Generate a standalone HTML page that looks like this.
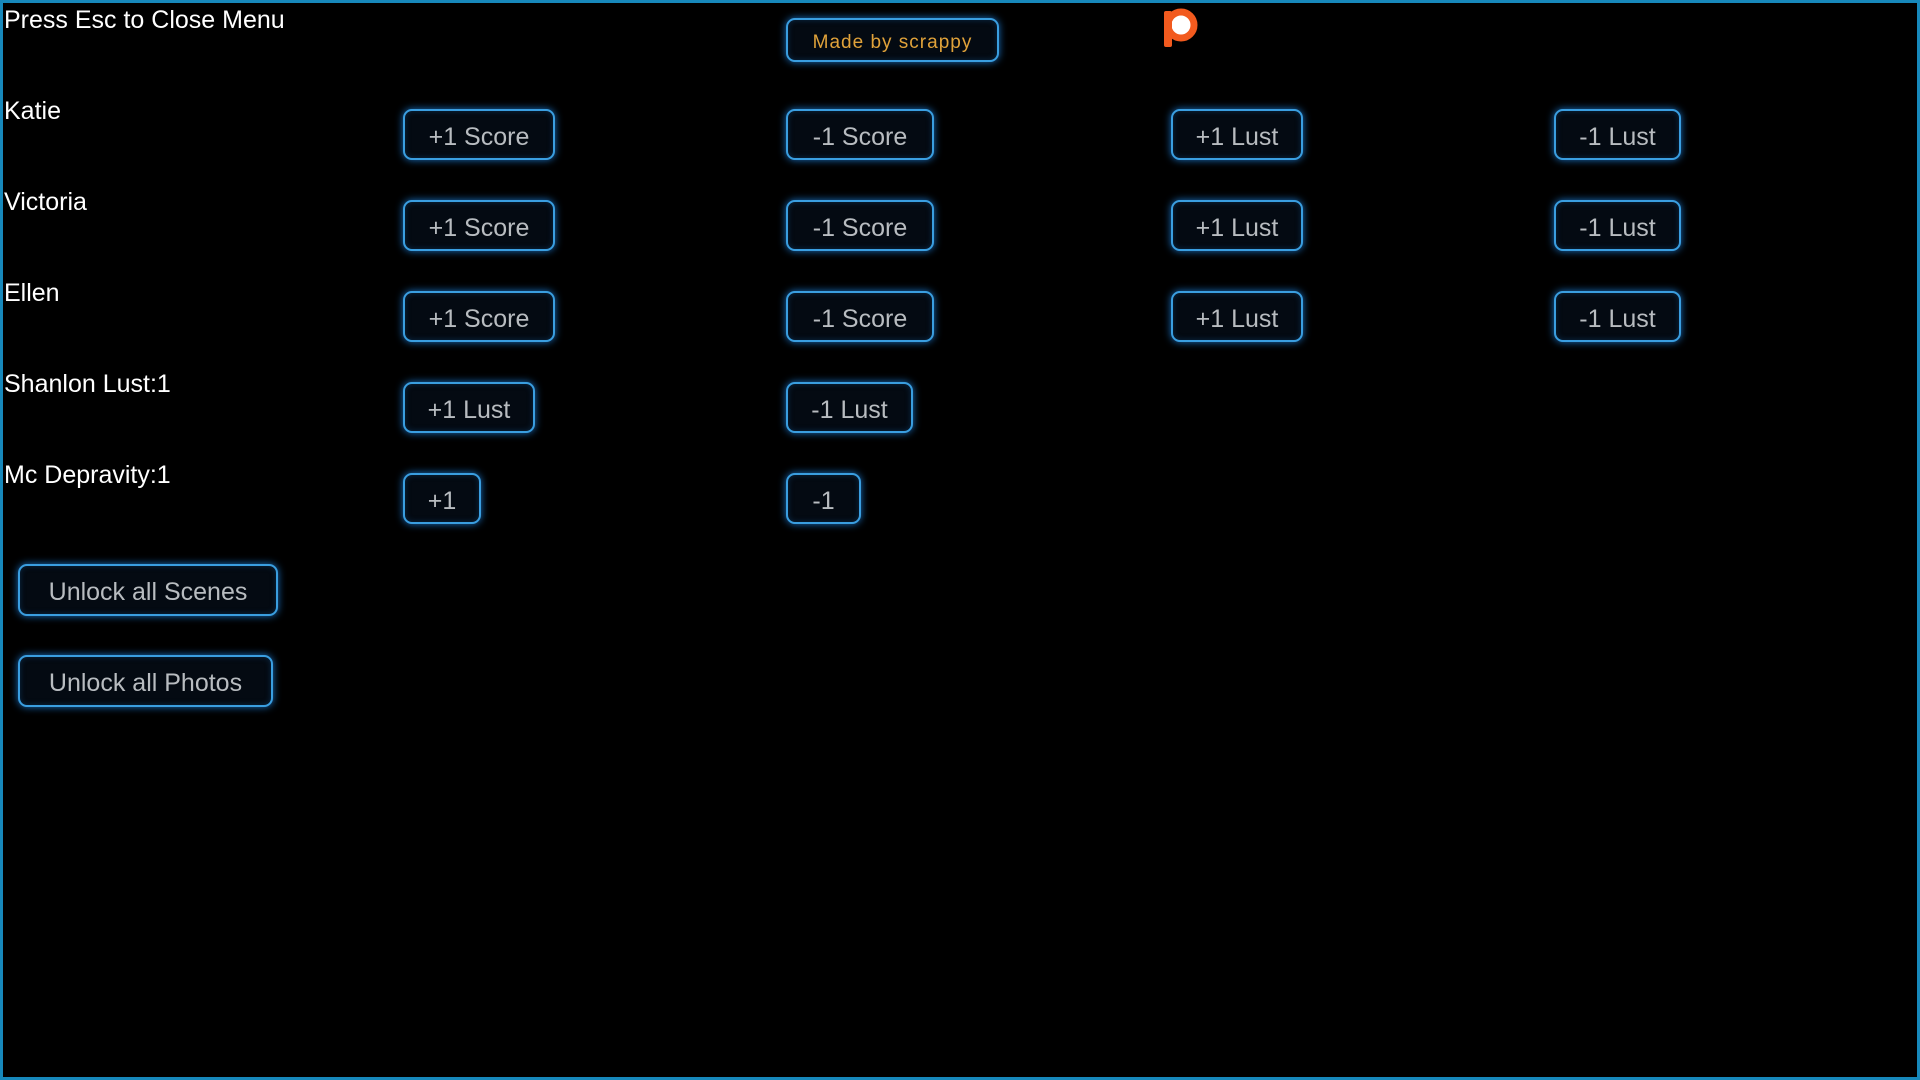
<!DOCTYPE html>
<html><head><meta charset="utf-8"><style>
html,body{margin:0;padding:0;background:#000;}
body{width:1920px;height:1080px;position:relative;overflow:hidden;font-family:"Liberation Sans",sans-serif;}
.frame{position:absolute;left:0;top:0;width:1914px;height:1074px;border:3px solid #1788bb;}
.lbl{position:absolute;left:4px;color:#fff;font-size:25px;line-height:30px;}
.b{position:absolute;box-sizing:border-box;height:51px;border:2.5px solid #3a9ee0;border-radius:9px;background:#040a12;
box-shadow:0 0 8px #1a70c0,inset 0 0 6px #0b2a48;color:#b8bcc0;font-size:25px;display:flex;align-items:center;justify-content:center;padding-top:5px;}
</style></head><body>
<div class="frame"></div>
<div class="lbl" style="top:5px">Press Esc to Close Menu</div>
<div class="lbl" style="top:96px">Katie</div>
<div class="lbl" style="top:187px">Victoria</div>
<div class="lbl" style="top:278px">Ellen</div>
<div class="lbl" style="top:369px">Shanlon Lust:1</div>
<div class="lbl" style="top:460px">Mc Depravity:1</div>

<div class="b" style="left:786px;top:18px;width:213px;height:44px;color:#e0a23a;font-size:19px;letter-spacing:1px"><span>Made by scrappy</span></div>
<svg style="position:absolute;left:1160px;top:6px" width="40" height="44" viewBox="0 0 40 44">
<circle cx="21" cy="19" r="13" fill="#fff" stroke="#f25a1e" stroke-width="7"/>
<rect x="4" y="5" width="8" height="36" rx="2" fill="#f25a1e"/>
</svg>

<div class="b" style="left:403px;top:109px;width:152px">+1 Score</div>
<div class="b" style="left:786px;top:109px;width:148px">-1 Score</div>
<div class="b" style="left:1171px;top:109px;width:132px">+1 Lust</div>
<div class="b" style="left:1554px;top:109px;width:127px">-1 Lust</div>

<div class="b" style="left:403px;top:200px;width:152px">+1 Score</div>
<div class="b" style="left:786px;top:200px;width:148px">-1 Score</div>
<div class="b" style="left:1171px;top:200px;width:132px">+1 Lust</div>
<div class="b" style="left:1554px;top:200px;width:127px">-1 Lust</div>

<div class="b" style="left:403px;top:291px;width:152px">+1 Score</div>
<div class="b" style="left:786px;top:291px;width:148px">-1 Score</div>
<div class="b" style="left:1171px;top:291px;width:132px">+1 Lust</div>
<div class="b" style="left:1554px;top:291px;width:127px">-1 Lust</div>

<div class="b" style="left:403px;top:382px;width:132px">+1 Lust</div>
<div class="b" style="left:786px;top:382px;width:127px">-1 Lust</div>

<div class="b" style="left:403px;top:473px;width:78px">+1</div>
<div class="b" style="left:786px;top:473px;width:75px">-1</div>

<div class="b" style="left:18px;top:564px;width:260px;height:52px">Unlock all Scenes</div>
<div class="b" style="left:18px;top:655px;width:255px;height:52px">Unlock all Photos</div>
</body></html>
